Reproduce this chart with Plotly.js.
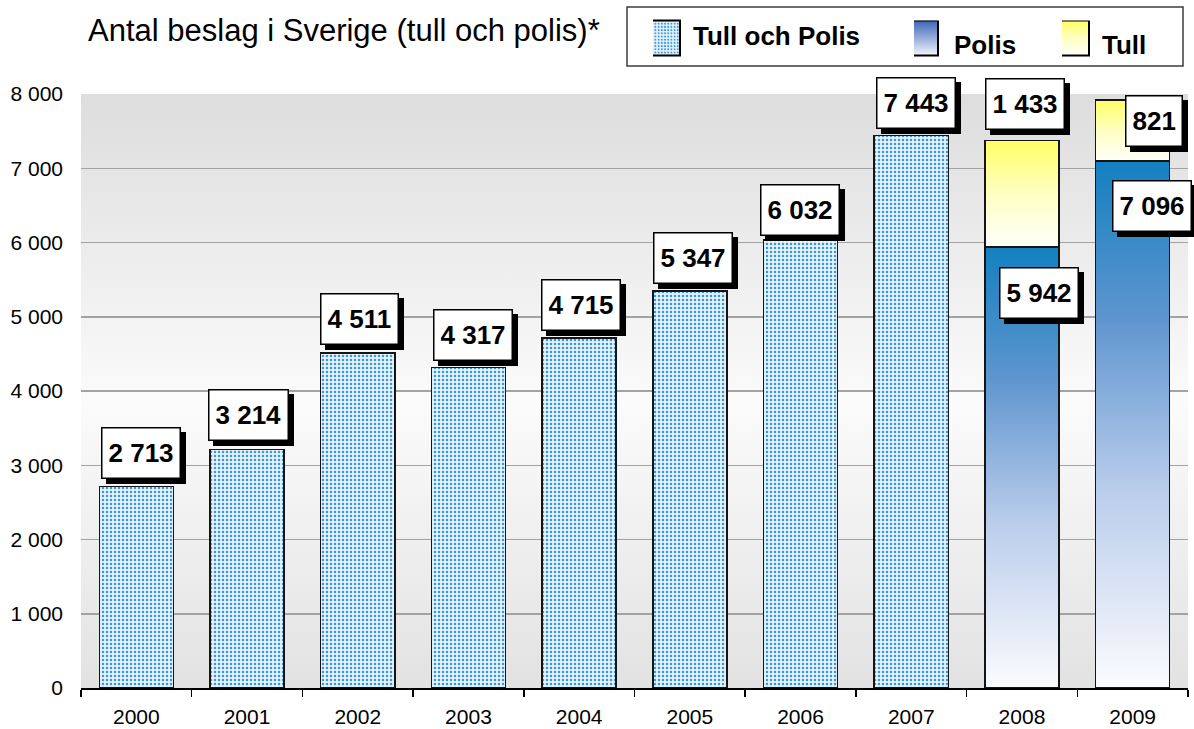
<!DOCTYPE html>
<html>
<head>
<meta charset="utf-8">
<script src="https://cdn.plot.ly/plotly-3.0.1.min.js"></script>
<style>
  html, body { margin: 0; padding: 0; background: #fff; }
  #chart { width: 1194px; height: 729px; }
</style>
</head>
<body>
<div id="chart"></div>
<script>
// Data
const years = ['2000', '2001', '2002', '2003', '2004', '2005', '2006', '2007', '2008', '2009'];
const tullOchPolis = [2713, 3214, 4511, 4317, 4715, 5347, 6032, 7443, null, null];
const polis = [null, null, null, null, null, null, null, null, 5942, 7096];
const tull = [null, null, null, null, null, null, null, null, 1433, 821];
const yTicks = [0, 1000, 2000, 3000, 4000, 5000, 6000, 7000, 8000];

const FONT = 'Liberation Sans, Arial, Helvetica, sans-serif';

// page geometry
const W = 1194, H = 729;
const M = { l: 81, r: 6, t: 94, b: 41 };
const plotW = W - M.l - M.r, plotH = H - M.t - M.b;
const px2x = px => (px - M.l) / plotW;
const px2y = py => (H - M.b - py) / plotH;

function fmt(v) {
    return String(v).replace(/\B(?=(\d{3})+(?!\d))/g, ' ');
}

// label nudges in px (style only): [xshift, yshift]
const comboNudge = [[5, 8], [1.5, 8], [2, 8], [5, 6], [2, 7], [3, 7], [-1, 4], [5, 6]];
const polisNudge = { '2008': [17, -20], '2009': [19, -19] };
const tullNudge = { '2008': ['bottom', 3, 10], '2009': ['top', 21, 5] };

// build value labels (x as category index)
const labels = [];
years.forEach((yr, i) => {
    if (tullOchPolis[i] != null) {
        labels.push({ x: i, y: tullOchPolis[i], text: fmt(tullOchPolis[i]), yanchor: 'bottom', dx: comboNudge[i][0], dy: comboNudge[i][1] });
    }
    if (polis[i] != null) {
        const n = polisNudge[yr];
        labels.push({ x: i, y: polis[i], text: fmt(polis[i]), yanchor: 'top', dx: n[0], dy: n[1] });
    }
    if (tull[i] != null) {
        const n = tullNudge[yr];
        labels.push({ x: i, y: polis[i] + tull[i], text: fmt(tull[i]), yanchor: n[0], dx: n[1], dy: n[2] });
    }
});

const labelFont = { family: FONT, size: 26, color: '#000', weight: 'bold' };
const annotations = [];
// shadows first
labels.forEach(l => {
    annotations.push({
        x: l.x, y: l.y, xref: 'x', yref: 'y', text: l.text, showarrow: false,
        yanchor: l.yanchor, xanchor: 'center', xshift: l.dx + 5, yshift: l.dy - 5,
        font: labelFont, bgcolor: '#000', bordercolor: '#000', borderwidth: 1.5, borderpad: 6, height: 37
    });
});
labels.forEach(l => {
    annotations.push({
        x: l.x, y: l.y, xref: 'x', yref: 'y', text: l.text, showarrow: false,
        yanchor: l.yanchor, xanchor: 'center', xshift: l.dx, yshift: l.dy,
        font: labelFont, bgcolor: '#fff', bordercolor: '#000', borderwidth: 1.5, borderpad: 6, height: 37
    });
});

const barLine = { color: '#151515', width: 1.5 };
const traces = [
    {
        type: 'bar', name: 'Tull och Polis', x: years, y: tullOchPolis, legend: 'legend',
        marker: {
            color: '#e6f3fc', line: barLine,
            pattern: { shape: '.', fgcolor: '#3a97d7', bgcolor: '#e6f3fc', size: 4, solidity: 0.3 }
        }
    },
    { type: 'bar', name: 'Polis', x: years, y: polis, legend: 'legend2', marker: { color: '#1380c0', line: barLine } },
    { type: 'bar', name: 'Tull', x: years, y: tull, legend: 'legend3', marker: { color: '#ffff66', line: barLine } }
];

const legendFont = { family: FONT, size: 26, color: '#000', weight: 'bold' };
const legendBase = { orientation: 'h', xanchor: 'left', yanchor: 'middle', font: legendFont, bgcolor: 'rgba(0,0,0,0)', borderwidth: 0 };

const layout = {
    width: W, height: H,
    margin: M,
    paper_bgcolor: '#fff',
    plot_bgcolor: '#eeeeee',
    barmode: 'stack',
    bargap: 0.33,
    hovermode: false,
    showlegend: true,
    title: {
        text: 'Antal beslag i Sverige (tull och polis)*',
        font: { family: FONT, size: 31, color: '#000' },
        xref: 'container', x: 88 / W, xanchor: 'left',
        yref: 'container', y: 1 - 30 / H, yanchor: 'middle'
    },
    xaxis: {
        type: 'category',
        range: [-0.5, years.length - 0.5],
        showgrid: false,
        showline: true, linecolor: '#000', linewidth: 1.5,
        ticks: 'outside', tickson: 'boundaries', ticklen: 7, tickwidth: 1.5, tickcolor: '#000',
        tickfont: { family: FONT, size: 21, color: '#000' },
        ticklabelstandoff: 9
    },
    yaxis: {
        range: [0, 8000],
        tickvals: yTicks,
        ticktext: yTicks.map(fmt),
        showgrid: true, gridcolor: '#a3a3a3', gridwidth: 1.5,
        zeroline: false, showline: false, ticks: '',
        tickfont: { family: FONT, size: 21, color: '#000' },
        ticklabelstandoff: 17
    },
    legend: { ...legendBase, x: px2x(653), y: px2y(35) },
    legend2: { ...legendBase, x: px2x(914), y: px2y(44) },
    legend3: { ...legendBase, x: px2x(1062), y: px2y(44) },
    shapes: [{
        type: 'rect', xref: 'paper', yref: 'paper', layer: 'above',
        x0: px2x(627), x1: px2x(1183), y0: px2y(66), y1: px2y(7),
        line: { color: '#3c3c3c', width: 1.5 }
    }],
    annotations: annotations
};

// gradients are not available for bars, so they get patched into the svg after drawing
function addGrad(defs, id, stops) {
    const NS = 'http://www.w3.org/2000/svg';
    const g = document.createElementNS(NS, 'linearGradient');
    g.setAttribute('id', id);
    g.setAttribute('x1', '0'); g.setAttribute('y1', '0');
    g.setAttribute('x2', '0'); g.setAttribute('y2', '1');
    stops.forEach(([off, col]) => {
        const s = document.createElementNS(NS, 'stop');
        s.setAttribute('offset', off);
        s.setAttribute('stop-color', col);
        g.appendChild(s);
    });
    defs.appendChild(g);
}

// legend swatch: gap to its text, vertical offset from the text centre
const swatchFix = {
    'Tull och Polis': { gap: 13, dy: 2, fill: null },
    'Polis': { gap: 16, dy: -7, fill: 'url(#polisLegGrad)' },
    'Tull': { gap: 13, dy: -7, fill: 'url(#tullGrad)' }
};

Plotly.newPlot('chart', traces, layout, { displayModeBar: false, staticPlot: true }).then(gd => {
    const svgs = gd.querySelectorAll('.main-svg');
    const defs = svgs[0].querySelector('defs');
    addGrad(defs, 'plotBgGrad', [[0, '#dddddd'], [0.52, '#fbfbfb'], [1, '#e2e2e2']]);
    addGrad(defs, 'polisGrad', [[0, '#1380c0'], [0.3, '#5f95cf'], [0.62, '#b9cceb'], [1, '#fbfcfe']]);
    addGrad(defs, 'tullGrad', [[0, '#ffff66'], [0.5, '#ffffc2'], [1, '#fffffb']]);
    addGrad(defs, 'polisLegGrad', [[0, '#3a66b8'], [1, '#f3f5fb']]);

    const bg = svgs[0].querySelector('.bglayer rect.bg');
    if (bg) bg.style.fill = 'url(#plotBgGrad)';

    const barTraces = gd.querySelectorAll('.barlayer .trace');
    if (barTraces[1]) barTraces[1].querySelectorAll('path').forEach(p => { p.style.fill = 'url(#polisGrad)'; });
    if (barTraces[2]) barTraces[2].querySelectorAll('path').forEach(p => { p.style.fill = 'url(#tullGrad)'; });

    // bigger legend swatches, placed relative to their text
    gd.querySelectorAll('g.traces').forEach(t => {
        const textEl = t.querySelector('text');
        const path = t.querySelector('.legendpoints path');
        if (!textEl || !path) return;
        const fix = swatchFix[textEl.textContent.trim()];
        if (!fix) return;
        const tb = textEl.getBoundingClientRect();
        const pb = path.getBoundingClientRect();
        const cx = pb.left + pb.width / 2, cy = pb.top + pb.height / 2;
        const hw = 16, hh = 17.5;
        const dx = (tb.left - fix.gap - hw) - cx;
        const dy = (tb.top + tb.height / 2 + fix.dy) - cy;
        path.setAttribute('d', `M${dx + hw},${dy + hh}H${dx - hw}V${dy - hh}H${dx + hw}Z`);
        path.style.stroke = '#000';
        path.style.strokeWidth = '2px';
        if (fix.fill) path.style.fill = fix.fill;
    });
});
</script>
</body>
</html>
